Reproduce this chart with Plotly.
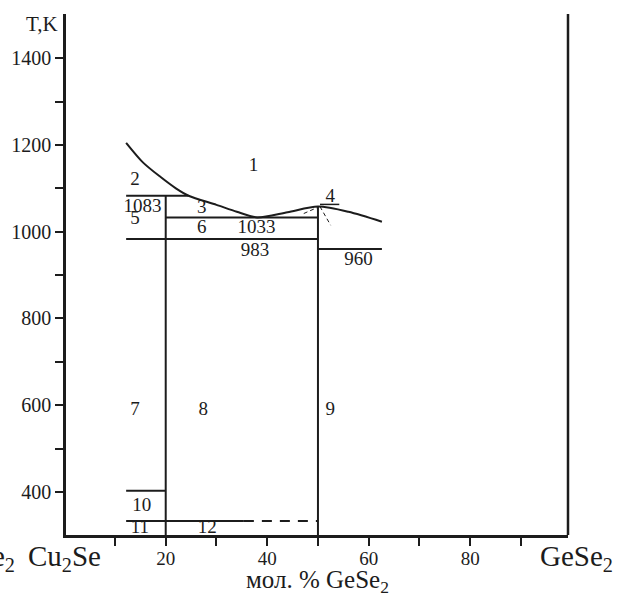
import plotly.graph_objects as go

# Liquidus curve of the Cu2Se–GeSe2 system (mol. % GeSe2, K)
liq_x = [12.2, 15.5, 19.0, 22.0, 24.5, 30.0, 34.0, 38.0, 44.0, 50.0, 56.0, 62.6]
liq_T = [1205, 1160, 1126, 1100, 1083, 1062, 1046, 1033, 1045, 1058, 1046, 1023]

# Invariant (horizontal) lines: temperature, x-start, x-end
iso_T = [1083, 1033, 983, 960, 403, 333]
iso_x0 = [12.2, 20, 12.2, 50, 12.2, 12.2]
iso_x1 = [24.5, 50, 50, 62.6, 20, 35.4]

# Dashed continuation of the low-temperature line
dash_T = 333
dash_x = [35.4, 50]

# Intermediate compounds (vertical lines): composition, top temperature
comp_x = [20, 50]
comp_top = [1083, 1058]
T_min = 300.8

# Short segments near the congruent maximum at 50 %
peak_bar_x = [50.4, 54.2]
peak_bar_T = [1063, 1063]
peak_dash_x = [50.4, 52.5]
peak_dash_T = [1058, 1015]
peak_dash2_x = [47.2, 50.1]
peak_dash2_T = [1042, 1057]

# Field / temperature labels
lab_text = ["1", "2", "1083", "5", "3", "6", "1033", "983", "960", "4",
            "7", "8", "9", "10", "11", "12"]
lab_x = [37.3, 13.95, 15.4, 13.95, 27.1, 27.1, 37.9, 37.6, 58.0, 52.4,
         13.95, 27.4, 52.4, 15.3, 14.9, 28.2]
lab_T = [1150, 1119, 1057, 1028, 1054, 1008, 1008, 956, 935, 1079,
         589, 589, 589, 366, 317, 317]

# Axis ticks
y_major = [400, 600, 800, 1000, 1200, 1400]
y_minor = [500, 700, 900, 1100, 1300]
x_major = [20, 40, 60, 80]
x_minor = [10, 30, 50, 70, 90]

INK = "#1c1c1c"
FONT = "Times New Roman, Liberation Serif, DejaVu Serif, serif"

fig = go.Figure()

fig.add_trace(go.Scatter(x=liq_x, y=liq_T, mode="lines",
                         line=dict(color=INK, width=2, shape="spline", smoothing=0.8),
                         hoverinfo="skip"))

for T, a, b in zip(iso_T, iso_x0, iso_x1):
    fig.add_trace(go.Scatter(x=[a, b], y=[T, T], mode="lines",
                             line=dict(color=INK, width=2), hoverinfo="skip"))

fig.add_trace(go.Scatter(x=dash_x, y=[dash_T, dash_T], mode="lines",
                         line=dict(color=INK, width=2, dash="10px,8px"), hoverinfo="skip"))

for cx, top in zip(comp_x, comp_top):
    fig.add_trace(go.Scatter(x=[cx, cx], y=[T_min, top], mode="lines",
                             line=dict(color=INK, width=2), hoverinfo="skip"))

fig.add_trace(go.Scatter(x=peak_bar_x, y=peak_bar_T, mode="lines",
                         line=dict(color=INK, width=1.5), hoverinfo="skip"))
fig.add_trace(go.Scatter(x=peak_dash_x, y=peak_dash_T, mode="lines",
                         line=dict(color=INK, width=1, dash="4px,3px"), hoverinfo="skip"))
fig.add_trace(go.Scatter(x=peak_dash2_x, y=peak_dash2_T, mode="lines",
                         line=dict(color=INK, width=1, dash="4px,3px"), hoverinfo="skip"))

fig.add_trace(go.Scatter(x=lab_x, y=lab_T, mode="text", text=lab_text,
                         textfont=dict(family=FONT, size=19, color=INK),
                         textposition="middle center", hoverinfo="skip",
                         cliponaxis=False))

# right-hand frame line
fig.add_shape(type="line", xref="x domain", yref="y domain",
              x0=1, x1=1, y0=0, y1=1, line=dict(color=INK, width=2.5))

ann_font = dict(family=FONT, color=INK)
fig.add_annotation(text="T,K", xref="paper", yref="paper", x=-0.012, y=0.981,
                   xanchor="right", yanchor="middle", showarrow=False,
                   font=dict(size=21, **ann_font))
fig.add_annotation(text="Cu<sub>2</sub>Se", xref="paper", yref="paper", x=-0.003, y=-0.044,
                   xanchor="center", yanchor="middle", showarrow=False,
                   font=dict(size=29, **ann_font))
fig.add_annotation(text="GeSe<sub>2</sub>", xref="paper", yref="paper", x=-0.0976, y=-0.044,
                   xanchor="right", yanchor="middle", showarrow=False,
                   font=dict(size=29, **ann_font))
fig.add_annotation(text="GeSe<sub>2</sub>", xref="paper", yref="paper", x=1.017, y=-0.044,
                   xanchor="center", yanchor="middle", showarrow=False,
                   font=dict(size=29, **ann_font))
fig.add_annotation(text="мол. % GeSe<sub>2</sub>", xref="paper", yref="paper", x=0.501, y=-0.089,
                   xanchor="center", yanchor="middle", showarrow=False,
                   font=dict(size=25, **ann_font))

fig.update_layout(
    width=619, height=593,
    margin=dict(l=66, r=51, t=14, b=58, pad=0),
    paper_bgcolor="white", plot_bgcolor="white",
    showlegend=False,
    xaxis=dict(range=[0.35, 99.27], showgrid=False, zeroline=False,
               showline=True, linecolor=INK, linewidth=2.5,
               ticks="outside", ticklen=8, tickwidth=2, tickcolor=INK,
               tickmode="array", tickvals=x_major, ticklabelstandoff=-4,
               minor=dict(tickmode="array", tickvals=x_minor, ticks="outside",
                          ticklen=8, tickwidth=2, tickcolor=INK, showgrid=False),
               tickfont=dict(family=FONT, size=19, color=INK)),
    yaxis=dict(range=[300.8, 1502], showgrid=False, zeroline=False,
               showline=True, linecolor=INK, linewidth=2.5,
               ticks="outside", ticklen=8, tickwidth=2, tickcolor=INK,
               tickmode="array", tickvals=y_major,
               minor=dict(tickmode="array", tickvals=y_minor, ticks="outside",
                          ticklen=8, tickwidth=2, tickcolor=INK, showgrid=False),
               tickfont=dict(family=FONT, size=20, color=INK)),
)

fig.write_html("out.html")
